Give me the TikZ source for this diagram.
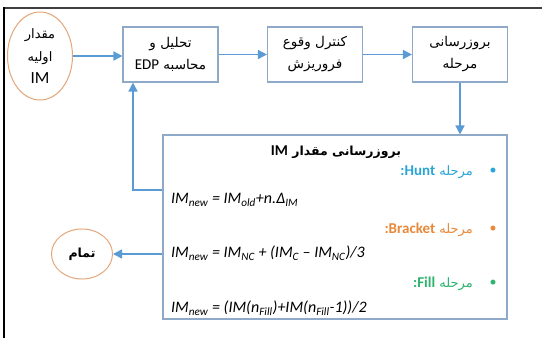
\documentclass[tikz,border=0pt]{standalone}
\usepackage{fontspec}
\setmainfont{Carlito}
\newfontfamily\fa[Script=Arabic]{DejaVu Sans}
\TeXXeTstate=1
\usetikzlibrary{arrows.meta,shapes.geometric}

\definecolor{boxc}{HTML}{8FA9C9}
\definecolor{arrowc}{HTML}{5B9BD5}
\definecolor{ovalc}{HTML}{E3A679}
\definecolor{huntc}{HTML}{2AA5D6}
\definecolor{brackc}{HTML}{E8883A}
\definecolor{fillc}{HTML}{2DB36E}

\newcommand{\rtl}[1]{\beginR #1\endR}
\newcommand{\ltr}[1]{\beginL #1\endL{}}
\newcommand{\lat}{\rmfamily\fontsize{15}{15}\selectfont}

\begin{document}
\begin{tikzpicture}[x=1pt,y=-1pt,
  flowbox/.style={draw=boxc, line width=1.1pt, rectangle, minimum width=95pt,
    minimum height=55pt, align=center, inner sep=0pt, font=\fa\fontsize{13.5}{22}\selectfont},
  oval/.style={ellipse, draw=ovalc, line width=1pt, inner sep=0pt, align=center},
  link/.style={draw=arrowc, line width=1.5pt, -{Triangle[length=9pt,width=9pt]}},
  persian/.style={font=\fa\fontsize{13}{14}\selectfont, inner sep=0pt},
  formula/.style={font=\itshape\fontsize{16}{18}\selectfont, inner sep=0pt, anchor=west},
  dot/.style={font=\fontsize{14}{14}\selectfont, inner sep=0pt}]
\useasboundingbox (0,0) rectangle (542,338);

% page frame
\draw[line width=2pt, black!75] (3,8) -- (542,8);
\draw[line width=2pt, black] (4,7) -- (4,338);

% start oval
\node[oval, minimum width=65pt, minimum height=88pt, font=\fa\fontsize{13}{23}\selectfont] (start) at (40,56)
  {\rtl{مقدار}\\\rtl{اولیه}\\[-1pt]\rmfamily\fontsize{17}{17}\selectfont IM};

% process boxes
\node[flowbox] (calc) at (170.5,54.5) {\rtl{تحلیل و}\\\rtl{محاسبه \ltr{\lat EDP}}};
\node[flowbox] (ctrl) at (315,54.5) {\rtl{کنترل وقوع}\\\rtl{فروریزش}};
\node[flowbox] (stage) at (460,54.5) {\rtl{بروزرسانی}\\\rtl{مرحله}};

% update box
\node[draw=boxc, line width=1.1pt, minimum width=344pt, minimum height=184pt, inner sep=0pt] (upd) at (335,227) {};

% end oval
\node[oval, minimum width=61pt, minimum height=50pt, font=\fa\bfseries\fontsize{12.5}{14}\selectfont] (end) at (82,254)
  {\rtl{تمام}};

% contents of the update box
\node[persian, font=\fa\bfseries\fontsize{12.5}{15}\selectfont] (ttl) at (336,152)
  {\rtl{بروزرسانی مقدار \ltr{\lat\bfseries IM}}};

\node[dot, text=huntc] (b1) at (493,171) {\textbullet};
\node[persian, text=huntc, anchor=east] (s1) at (473,172)
  {\rtl{مرحله \ltr{\lat\bfseries Hunt}:}};
\node[formula] (f1) at (171,200)
  {IM\textsubscript{new} = IM\textsubscript{old}+n.Δ\textsubscript{IM}};

\node[dot, text=brackc] (b2) at (493,229) {\textbullet};
\node[persian, text=brackc, anchor=east] (s2) at (473,230)
  {\rtl{مرحله \ltr{\lat\bfseries Bracket}:}};
\node[formula] (f2) at (171,253)
  {IM\textsubscript{new} = IM\textsubscript{NC} + (IM\textsubscript{C} – IM\textsubscript{NC})/3};

\node[dot, text=fillc] (b3) at (493,283) {\textbullet};
\node[persian, text=fillc, anchor=east] (s3) at (473,284)
  {\rtl{مرحله \ltr{\lat\bfseries Fill}:}};
\node[formula] (f3) at (171,308)
  {IM\textsubscript{new} = (IM(n\textsubscript{Fill})+IM(n\textsubscript{Fill}-1))/2};

% connectors
\coordinate (fb) at (133,190);
\draw[link] (start.east) -- (start.east -| calc.west);
\draw[link] (calc) -- (ctrl);
\draw[link] (ctrl) -- (stage);
\draw[link] (stage.south) -- (upd.north -| stage.south);
\draw[link] (upd.west |- fb) -| (calc.south -| fb);
\draw[link] (upd.west |- end.east) -- (end.east);
\end{tikzpicture}
\end{document}
